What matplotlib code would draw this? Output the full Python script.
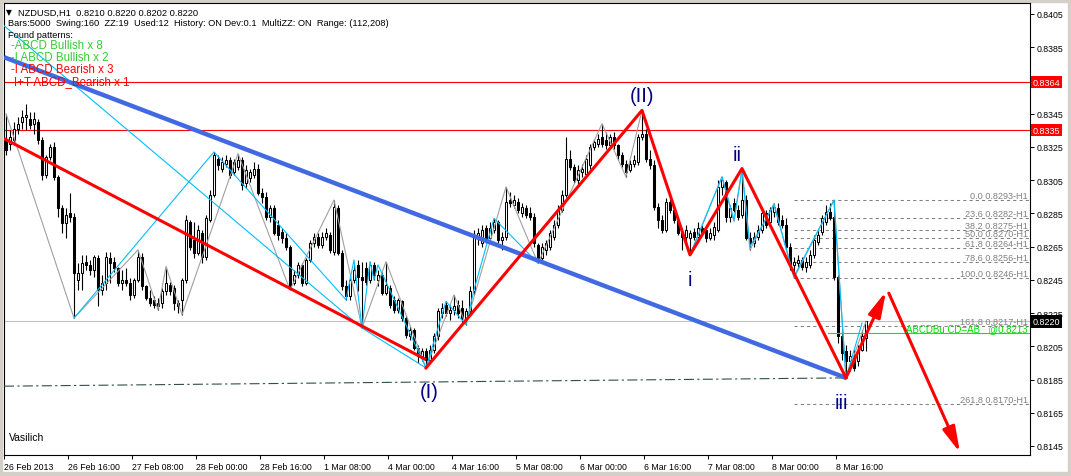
import matplotlib
matplotlib.use("Agg")
import matplotlib.pyplot as plt
import matplotlib.transforms as mtransforms
from matplotlib.patches import Rectangle
import numpy as np

plt.rcParams['font.family'] = ['Liberation Sans', 'DejaVu Sans']

# NZDUSD H1 bars, prices in pips (x 0.0001)
opens = [
    8329, 8327, 8329, 8336, 8340, 8343, 8342, 8339, 8340, 8329,
    8308, 8319, 8325, 8307, 8288, 8279, 8285, 8283, 8245, 8249,
    8256, 8254, 8251, 8258, 8239, 8243, 8258, 8256, 8252, 8243,
    8245, 8243, 8236, 8245, 8259, 8241, 8234, 8233, 8231, 8231,
    8238, 8242, 8240, 8231, 8233, 8245, 8280, 8269, 8261, 8273,
    8259, 8281, 8296, 8318, 8312, 8315, 8317, 8310, 8313, 8317,
    8303, 8306, 8308, 8312, 8297, 8295, 8283, 8288, 8278, 8274,
    8270, 8265, 8243, 8248, 8254, 8243, 8257, 8267, 8271, 8266,
    8271, 8272, 8262, 8288, 8261, 8241, 8235, 8245, 8254, 8247,
    8252, 8245, 8254, 8245, 8248, 8237, 8240, 8233, 8227, 8232,
    8222, 8211, 8215, 8204, 8198, 8202, 8197, 8203, 8211, 8225,
    8230, 8225, 8227, 8230, 8228, 8222, 8226, 8238, 8270, 8267,
    8276, 8270, 8275, 8280, 8269, 8271, 8293, 8290, 8292, 8285,
    8288, 8285, 8283, 8266, 8258, 8263, 8265, 8271, 8278, 8287,
    8296, 8318, 8313, 8305, 8310, 8309, 8314, 8325, 8327, 8331,
    8329, 8326, 8331, 8326, 8320, 8315, 8311, 8315, 8316, 8331,
    8333, 8318, 8314, 8289, 8281, 8275, 8292, 8287, 8281, 8273,
    8271, 8270, 8274, 8271, 8276, 8275, 8270, 8272, 8275, 8301,
    8304, 8283, 8291, 8287, 8284, 8293, 8270, 8267, 8271, 8275,
    8285, 8280, 8286, 8288, 8281, 8278, 8265, 8254, 8255, 8257,
    8253, 8254, 8260, 8268, 8274, 8280, 8286, 8283, 8247, 8211,
    8202, 8196, 8199, 8196, 8203, 8210]
highs = [
    8345, 8335, 8340, 8343, 8347, 8351, 8346, 8346, 8342, 8331,
    8320, 8327, 8328, 8308, 8290, 8288, 8297, 8285, 8255, 8260,
    8260, 8257, 8260, 8260, 8248, 8262, 8262, 8259, 8253, 8251,
    8252, 8246, 8246, 8263, 8261, 8242, 8239, 8235, 8234, 8240,
    8253, 8244, 8242, 8233, 8246, 8284, 8281, 8280, 8278, 8275,
    8284, 8299, 8322, 8320, 8319, 8320, 8319, 8318, 8321, 8319,
    8314, 8312, 8316, 8315, 8300, 8298, 8290, 8290, 8281, 8276,
    8273, 8266, 8251, 8256, 8255, 8258, 8269, 8273, 8273, 8274,
    8276, 8274, 8293, 8290, 8263, 8245, 8248, 8254, 8257, 8256,
    8256, 8256, 8256, 8251, 8250, 8256, 8242, 8235, 8234, 8233,
    8224, 8217, 8216, 8206, 8204, 8204, 8206, 8213, 8228, 8231,
    8232, 8230, 8236, 8233, 8233, 8228, 8241, 8275, 8276, 8278,
    8278, 8280, 8282, 8281, 8274, 8301, 8298, 8296, 8294, 8291,
    8290, 8289, 8285, 8267, 8267, 8269, 8275, 8281, 8290, 8299,
    8331, 8323, 8315, 8314, 8315, 8320, 8327, 8330, 8333, 8339,
    8334, 8333, 8334, 8327, 8322, 8317, 8317, 8320, 8333, 8347,
    8336, 8323, 8317, 8291, 8284, 8294, 8294, 8290, 8283, 8276,
    8278, 8275, 8276, 8280, 8278, 8277, 8276, 8280, 8305, 8307,
    8305, 8290, 8294, 8290, 8312, 8296, 8274, 8274, 8278, 8287,
    8287, 8289, 8291, 8291, 8284, 8282, 8267, 8259, 8260, 8259,
    8259, 8263, 8272, 8275, 8284, 8290, 8291, 8293, 8248, 8215,
    8206, 8203, 8203, 8206, 8215, 8220]
lows = [
    8320, 8323, 8328, 8333, 8336, 8335, 8336, 8333, 8327, 8305,
    8306, 8317, 8305, 8283, 8273, 8270, 8280, 8222, 8239, 8239,
    8251, 8248, 8247, 8229, 8236, 8239, 8243, 8250, 8241, 8239,
    8241, 8233, 8234, 8244, 8239, 8233, 8229, 8228, 8227, 8228,
    8236, 8236, 8227, 8225, 8224, 8243, 8263, 8258, 8260, 8255,
    8257, 8280, 8295, 8311, 8310, 8313, 8306, 8308, 8311, 8299,
    8300, 8304, 8306, 8296, 8291, 8281, 8280, 8272, 8269, 8267,
    8263, 8239, 8242, 8246, 8241, 8242, 8256, 8265, 8264, 8264,
    8269, 8261, 8260, 8260, 8239, 8233, 8233, 8243, 8238, 8216,
    8242, 8243, 8245, 8241, 8236, 8236, 8228, 8225, 8225, 8220,
    8210, 8209, 8203, 8195, 8196, 8192, 8195, 8201, 8209, 8222,
    8223, 8221, 8224, 8222, 8218, 8218, 8224, 8236, 8266, 8265,
    8267, 8268, 8273, 8267, 8263, 8269, 8289, 8288, 8285, 8283,
    8282, 8281, 8265, 8255, 8256, 8260, 8263, 8269, 8276, 8286,
    8295, 8311, 8303, 8302, 8307, 8306, 8312, 8323, 8325, 8325,
    8324, 8324, 8324, 8317, 8313, 8307, 8310, 8313, 8314, 8329,
    8316, 8312, 8287, 8276, 8273, 8274, 8285, 8279, 8272, 8263,
    8266, 8260, 8269, 8269, 8272, 8268, 8269, 8269, 8274, 8296,
    8280, 8280, 8286, 8281, 8282, 8269, 8263, 8265, 8269, 8273,
    8276, 8278, 8283, 8278, 8276, 8263, 8251, 8246, 8253, 8251,
    8250, 8252, 8258, 8266, 8272, 8278, 8281, 8245, 8207, 8197,
    8186, 8190, 8190, 8193, 8202, 8202]
closes = [
    8323, 8331, 8336, 8339, 8343, 8344, 8338, 8342, 8329, 8308,
    8319, 8325, 8307, 8288, 8279, 8284, 8283, 8249, 8249, 8255,
    8254, 8251, 8259, 8239, 8243, 8259, 8255, 8252, 8243, 8245,
    8243, 8236, 8245, 8259, 8241, 8234, 8231, 8230, 8229, 8238,
    8243, 8238, 8231, 8229, 8245, 8281, 8265, 8261, 8275, 8259,
    8282, 8296, 8320, 8314, 8316, 8317, 8308, 8316, 8317, 8302,
    8311, 8310, 8312, 8297, 8295, 8283, 8288, 8273, 8272, 8270,
    8265, 8241, 8248, 8254, 8243, 8257, 8267, 8271, 8266, 8271,
    8273, 8263, 8289, 8261, 8241, 8235, 8245, 8251, 8247, 8245,
    8244, 8254, 8248, 8248, 8237, 8242, 8230, 8227, 8233, 8222,
    8212, 8215, 8204, 8199, 8202, 8197, 8203, 8211, 8226, 8228,
    8225, 8227, 8229, 8225, 8222, 8226, 8238, 8272, 8273, 8275,
    8269, 8276, 8280, 8269, 8271, 8292, 8291, 8293, 8287, 8289,
    8284, 8283, 8267, 8258, 8265, 8267, 8273, 8278, 8287, 8296,
    8318, 8313, 8305, 8311, 8312, 8318, 8325, 8328, 8330, 8327,
    8326, 8331, 8326, 8320, 8315, 8310, 8315, 8317, 8331, 8333,
    8318, 8314, 8289, 8281, 8275, 8292, 8287, 8281, 8273, 8271,
    8275, 8273, 8271, 8276, 8274, 8270, 8273, 8277, 8301, 8305,
    8283, 8288, 8287, 8283, 8293, 8270, 8267, 8271, 8275, 8285,
    8278, 8287, 8289, 8280, 8278, 8265, 8254, 8256, 8257, 8253,
    8256, 8260, 8269, 8272, 8282, 8286, 8282, 8247, 8211, 8201,
    8196, 8199, 8192, 8203, 8211, 8220]

date_ticks = [0, 16, 32, 48, 64, 80, 96, 112, 128, 144, 160, 176, 192, 208]
date_labels = ["26 Feb 2013", "26 Feb 16:00", "27 Feb 08:00", "28 Feb 00:00",
               "28 Feb 16:00", "1 Mar 08:00", "4 Mar 00:00", "4 Mar 16:00",
               "5 Mar 08:00", "6 Mar 00:00", "6 Mar 16:00", "7 Mar 08:00",
               "8 Mar 00:00", "8 Mar 16:00"]
price_ticks = [0.8405, 0.8385, 0.8365, 0.8345, 0.8325, 0.8305, 0.8285,
               0.8265, 0.8245, 0.8225, 0.8205, 0.8185, 0.8165, 0.8145]

# horizontal levels
resist_levels = [0.8364, 0.8335]
last_price = 0.8220

# fibo levels of the last swing
fib_levels = [0.0, 23.6, 38.2, 50.0, 61.8, 78.6, 100.0, 161.8, 261.8]
fib_prices = [0.8293, 0.8282, 0.8275, 0.8270, 0.8264, 0.8256, 0.8246, 0.8217, 0.8170]
fib_start = 197
abcd_target = 0.8213
abcd_start = 205.5

# zigzag (gray)
zz_bars = [0, 17, 33, 38, 40, 44, 58, 71, 82, 89, 95, 105, 112, 115, 125, 133,
           149, 155, 159, 171, 179, 182, 184, 186, 192, 197, 207, 210, 215]
zz_prices = [0.8345, 0.8222, 0.8263, 0.8227, 0.8253, 0.8224, 0.8321, 0.8239,
             0.8293, 0.8216, 0.8256, 0.8192, 0.8236, 0.8218, 0.8301, 0.8255,
             0.8339, 0.8307, 0.8347, 0.8260, 0.8307, 0.8280, 0.8312, 0.8263,
             0.8291, 0.8246, 0.8293, 0.8186, 0.8220]

# ABCD pattern legs (cyan)
abcd_legs = [
    ([-0.5, 89], [0.8398, 0.8216]),
    ([17, 52, 85, 87, 89, 91, 92, 93, 105],
     [0.8222, 0.8322, 0.8233, 0.8257, 0.8216, 0.8256, 0.8245, 0.8254, 0.8192]),
    ([89, 105], [0.8216, 0.8192]),
    ([105, 110, 115, 117, 122, 133], [0.8192, 0.8232, 0.8218, 0.8239, 0.8282, 0.8255]),
    ([171, 179, 182, 184, 186, 192, 197, 207, 210, 214],
     [0.8260, 0.8307, 0.8281, 0.8311, 0.8265, 0.8290, 0.8247, 0.8293, 0.8186, 0.8219]),
]

# trend lines
channel_bars, channel_prices = [-0.5, 105], [0.8330, 0.8197]
blue_bars, blue_prices = [-0.5, 210], [0.8379, 0.8186]
base_bars, base_prices = [-0.5, 210], [0.8181, 0.8186]

# Elliott waves + projection
wave_bars = [105, 159, 171, 184, 210]
wave_prices = [0.8192, 0.8347, 0.8260, 0.8312, 0.8186]
wave_labels = ['(I)', '(II)', 'i', 'ii', 'iii']
wave_offsets = [(3, -24), (0, 15), (0, -25), (-5, 14), (-5, -25)]
proj_up = ([210, 220], [0.8186, 0.8238])
proj_down = ([220.7, 238.5], [0.8237, 0.8141])

W, H = 1071, 477
fig = plt.figure(figsize=(W / 100, H / 100), dpi=100, facecolor='white')
ax = fig.add_axes([4 / W, 21 / H, 1026 / W, 452 / H])
ax.set_xlim(-0.5, 256)
ax.set_ylim(0.813958, 0.841162)
ax.set_facecolor('white')

# window frame
frame = '#D4D0C8'
for r in [(0, 0, 1, 4 / H), (0, 1 - 3 / H, 1, 3 / H), (0, 0, 2 / W, 1), (1 - 3 / W, 0, 3 / W, 1)]:
    fig.add_artist(Rectangle(r[:2], r[2], r[3], transform=fig.transFigure, color=frame, zorder=0))

o = np.array(opens) / 1e4
h = np.array(highs) / 1e4
l = np.array(lows) / 1e4
c = np.array(closes) / 1e4
idx = np.arange(len(o))

# horizontal lines
ax.axhline(last_price, color='#C0C0C0', lw=0.8, zorder=1)
for lv in resist_levels:
    ax.axhline(lv, color='red', lw=0.8, zorder=2)

# candles
ax.vlines(idx, l, h, color='black', lw=0.8, zorder=3)
up = c >= o
ax.bar(idx[up], (c - o)[up], bottom=o[up], width=0.5, facecolor='white',
       edgecolor='black', linewidth=0.75, zorder=3.5)
ax.bar(idx[~up], (o - c)[~up], bottom=c[~up], width=0.5, facecolor='black',
       edgecolor='black', linewidth=0.75, zorder=3.5)

# zigzag and patterns
ax.plot(zz_bars, zz_prices, color='#A0A0A0', lw=0.8, zorder=4)
for bx, py in abcd_legs:
    ax.plot(bx, py, color='#00BFFF', lw=0.8, zorder=4.2)

# fibo
blend = mtransforms.blended_transform_factory(ax.transAxes, ax.transData)
for lvl, p in zip(fib_levels, fib_prices):
    ax.plot([fib_start, 256], [p, p], color='#808080', lw=0.75, ls=(0, (3, 3)), zorder=2)
    ax.annotate(f'{lvl:.1f} {p:.4f}-H1', xy=(1, p), xycoords=blend, xytext=(-2, 0),
                textcoords='offset pixels', ha='right', va='bottom', fontsize=6.6,
                color='#808080', zorder=5)
ax.plot([abcd_start, 256], [abcd_target] * 2, color='#00EE00', lw=0.8, zorder=4.5)
ax.annotate(f'ABCDBu CD=AB   @{abcd_target:.4f}', xy=(1, abcd_target), xycoords=blend,
            xytext=(-2, 0), textcoords='offset pixels', ha='right', va='bottom',
            fontsize=7, color='#00DD00', zorder=5)

# trend lines
ax.plot(base_bars, base_prices, color='#2F4F4F', lw=0.8, ls=(0, (9, 3, 2, 3)), zorder=4)
ax.plot(blue_bars, blue_prices, color='#4169E1', lw=3.2, zorder=4.6, solid_capstyle='butt')
ax.plot(channel_bars, channel_prices, color='red', lw=2.2, zorder=4.7, solid_capstyle='butt')

# waves
ax.plot(wave_bars, wave_prices, color='red', lw=2.2, zorder=4.8)
for seg in (proj_up, proj_down):
    ax.annotate('', xy=(seg[0][1], seg[1][1]), xytext=(seg[0][0], seg[1][0]),
                arrowprops=dict(arrowstyle='-|>,head_length=1.4,head_width=0.35',
                                color='red', lw=2.2, shrinkA=0, shrinkB=0,
                                mutation_scale=11), zorder=4.8)
for bx, py, txt, off in zip(wave_bars, wave_prices, wave_labels, wave_offsets):
    ax.annotate(txt, xy=(bx, py), xytext=off, textcoords='offset pixels',
                ha='center', va='center', fontsize=14.5, color='#000080', zorder=6)

# axes styling
for s in ax.spines.values():
    s.set_color('black')
    s.set_linewidth(0.8)
ax.yaxis.tick_right()
ax.set_yticks(price_ticks)
# the 0.8365 label sits under the 0.8364 level box in the terminal
ax.set_yticklabels(['' if abs(p - 0.8365) < 1e-6 else f'{p:.4f}' for p in price_ticks])
ax.tick_params(axis='y', direction='out', length=3, width=0.7, pad=1.5,
               labelsize=6.3, right=True, left=False)
ax.set_xticks(np.array(date_ticks) - 0.5)
ax.set_xticklabels(date_labels, ha='left')
ax.tick_params(axis='x', direction='out', length=3, width=0.7, pad=2, labelsize=6.3)

for lv in resist_levels:
    ax.text(1.003, lv, f'{lv:.4f}', transform=blend, ha='left', va='center',
            fontsize=6.5, color='white', zorder=7, clip_on=False,
            bbox=dict(boxstyle='square,pad=0.18', fc='red', ec='none'))
ax.text(1.003, last_price, f'{last_price:.4f}', transform=blend, ha='left', va='center',
        fontsize=6.5, color='white', zorder=7, clip_on=False,
        bbox=dict(boxstyle='square,pad=0.18', fc='black', ec='none'))

# header texts
def ftext(x, y, s, **kw):
    fig.text(x / W, 1 - y / H, s, va='center', ha='left', zorder=10, **kw)

ftext(6, 13, '\u25BC', fontsize=5.5, color='black', family=['DejaVu Sans'])
ftext(18, 13, f'NZDUSD,H1  {opens[-1] / 1e4:.4f} {highs[-1] / 1e4:.4f} '
              f'{lows[-1] / 1e4:.4f} {closes[-1] / 1e4:.4f}', fontsize=6.7)
ftext(8, 24, 'Bars:5000  Swing:160  ZZ:19  Used:12  History: ON Dev:0.1  MultiZZ: ON  Range: (112,208)',
      fontsize=6.7)
ftext(8, 35, 'Found patterns:', fontsize=6.7)
ftext(11, 46, '-ABCD Bullish x 8', fontsize=8.3, color='#33CC33')
ftext(11, 58, '-I ABCD Bullish x 2', fontsize=8.3, color='#33CC33')
ftext(11, 70, '-I ABCD Bearish x 3', fontsize=8.3, color='red')
ftext(14, 82, 'I+T ABCD_Bearish x 1', fontsize=8.3, color='red')
ftext(9, 438, 'Vasilich', fontsize=7.5, color='black')

fig.savefig('out.png', dpi=100, facecolor='white')
